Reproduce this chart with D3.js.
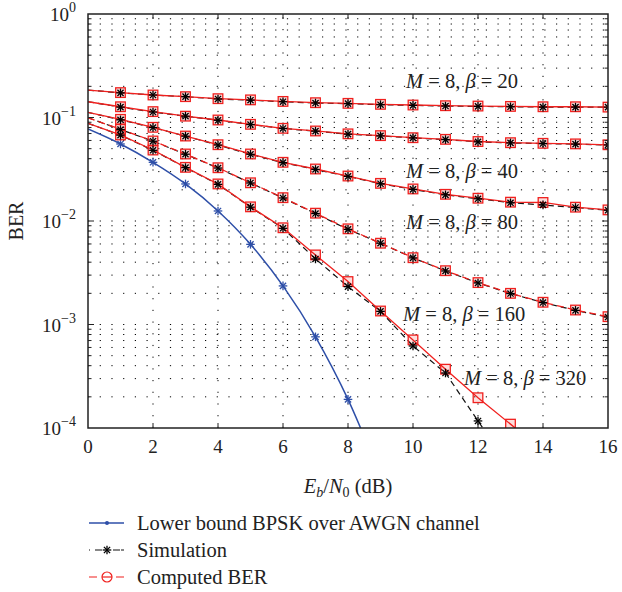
<!DOCTYPE html>
<html>
<head>
<meta charset="utf-8">
<script src="https://cdn.jsdelivr.net/npm/d3@7"></script>
<style>
  body { margin: 0; background: #fff; }
  svg text { font-family: "Liberation Serif", "DejaVu Serif", serif; fill: #222; }
</style>
</head>
<body>
<div id="chart"></div>
<script>
// Eb/N0 (dB) sample points
const ebn0 = [0, 1, 2, 3, 4, 5, 6, 7, 8, 9, 10, 11, 12, 13, 14, 15, 16];

// computed BER for M = 8 and each beta
const comp20 = [0.184, 0.174, 0.165, 0.159, 0.152, 0.148, 0.143, 0.139, 0.137, 0.134, 0.132, 0.130, 0.129, 0.128, 0.127, 0.127, 0.126];
const comp40 = [0.142, 0.127, 0.114, 0.103, 0.0946, 0.0859, 0.0786, 0.0741, 0.0695, 0.0668, 0.0638, 0.0615, 0.0586, 0.0571, 0.0563, 0.0556, 0.0545];
const comp80 = [0.112, 0.096, 0.0804, 0.0662, 0.0546, 0.0444, 0.0369, 0.0318, 0.0272, 0.0231, 0.0204, 0.0181, 0.0166, 0.0152, 0.0151, 0.0136, 0.0128];
const comp160 = [0.0995, 0.0769, 0.0593, 0.0444, 0.0327, 0.0234, 0.0168, 0.0119, 0.0084, 0.0061, 0.00442, 0.00331, 0.00254, 0.0020, 0.00164, 0.00138, 0.00119];
const comp320 = [0.0879, 0.0678, 0.0485, 0.033, 0.0228, 0.0137, 0.0086, 0.0047, 0.0026, 0.00135, 0.00071, 0.00037, 0.000196, 0.000109, 0.00006];

// simulation results
const sim20 = [0.184, 0.173, 0.165, 0.159, 0.151, 0.147, 0.142, 0.138, 0.136, 0.133, 0.131, 0.129, 0.128, 0.127, 0.126, 0.126, 0.126];
const sim40 = [0.142, 0.126, 0.113, 0.103, 0.0940, 0.0855, 0.0784, 0.0738, 0.0690, 0.0664, 0.0635, 0.0612, 0.0582, 0.0568, 0.0560, 0.0553, 0.0543];
const sim80 = [0.112, 0.095, 0.0800, 0.0660, 0.0542, 0.0441, 0.0366, 0.0315, 0.0270, 0.0229, 0.0202, 0.0179, 0.0164, 0.0150, 0.0143, 0.0135, 0.0127];
const sim160 = [0.0995, 0.0765, 0.0590, 0.0442, 0.0325, 0.0233, 0.0167, 0.0118, 0.0083, 0.0061, 0.00440, 0.00329, 0.00252, 0.00199, 0.00163, 0.00137, 0.00118];
const sim320 = [0.0879, 0.0675, 0.0482, 0.0328, 0.0226, 0.0136, 0.0085, 0.0043, 0.00232, 0.00134, 0.00062, 0.00034, 0.000117, 0.00004];

// lower bound, BPSK over AWGN
const bpsk = [0.0774, 0.0555, 0.0369, 0.0228, 0.0125, 0.00595, 0.00236, 0.00076, 0.000189, 0.000034];

const xTicks = [0, 2, 4, 6, 8, 10, 12, 14, 16];
const yExps = [0, -1, -2, -3, -4];
const curveLabels = ["20", "40", "80", "160", "320"];
const legendNames = ["Lower bound BPSK over AWGN channel", "Simulation", "Computed BER"];

const W = 622, H = 592;
const mLeft = 88, mRight = 608, mTop = 14, mBottom = 428;
const red = "#f0201e", blue = "#2e4fa8";

const x = d3.scaleLinear().domain([0, 16]).range([mLeft, mRight]);
const y = d3.scaleLog().domain([1e-4, 1]).range([mBottom, mTop]);

const svg = d3.select("#chart").append("svg")
  .attr("width", W).attr("height", H);

svg.append("defs").append("clipPath").attr("id", "plot")
  .append("rect").attr("x", mLeft).attr("y", mTop)
  .attr("width", mRight - mLeft).attr("height", mBottom - mTop);

//grid (matlab style dotted)
const minor = [];
for (let e = -4; e < 0; e++) {
  for (let m = 1; m < 10; m++) minor.push(m * Math.pow(10, e));
}
const isDecade = d => Math.abs(Math.log10(d) - Math.round(Math.log10(d))) < 1e-6;

const grid = svg.append("g").attr("stroke", "#000").attr("stroke-width", 1)
  .attr("stroke-dasharray", "1.2,10.5");
grid.selectAll("line.h").data(minor.filter(d => d > 1e-4)).enter()
  .append("line").attr("class", "h")
  .attr("x1", mLeft).attr("x2", mRight)
  .attr("y1", d => y(d)).attr("y2", d => y(d));
grid.selectAll("line.v").data(xTicks.slice(1, -1)).enter()
  .append("line").attr("class", "v")
  .attr("x1", d => x(d)).attr("x2", d => x(d))
  .attr("y1", mBottom).attr("y2", mTop);

const plot = svg.append("g").attr("clip-path", "url(#plot)");

function pts(vals) {
  return vals.map((v, i) => [ebn0[i], v]);
}
const line = d3.line().x(d => x(d[0])).y(d => y(d[1]));
const smooth = d3.line().x(d => x(d[0])).y(d => y(d[1])).curve(d3.curveMonotoneX);

function star(g, data, color) {
  const s = 4.3, d2 = s * 0.72;
  const m = g.selectAll(null).data(data).enter().append("g")
    .attr("transform", d => "translate(" + x(d[0]) + "," + y(d[1]) + ")")
    .attr("stroke", color).attr("stroke-width", 1.3);
  m.append("line").attr("x1", -s).attr("x2", s);
  m.append("line").attr("y1", -s).attr("y2", s);
  m.append("line").attr("x1", -d2).attr("y1", -d2).attr("x2", d2).attr("y2", d2);
  m.append("line").attr("x1", -d2).attr("y1", d2).attr("x2", d2).attr("y2", -d2);
}

function square(g, data) {
  g.selectAll(null).data(data).enter().append("rect")
    .attr("x", d => x(d[0]) - 4.8).attr("y", d => y(d[1]) - 4.8)
    .attr("width", 9.6).attr("height", 9.6)
    .attr("fill", "rgba(240,32,30,0.15)").attr("stroke", red).attr("stroke-width", 1.3);
}

// blue lower bound
plot.append("path").datum(pts(bpsk))
  .attr("d", smooth).attr("fill", "none")
  .attr("stroke", blue).attr("stroke-width", 1.5);
star(plot, pts(bpsk).filter(d => d[0] >= 1 && d[0] <= 8), blue);

const sims = [sim20, sim40, sim80, sim160, sim320];
const comps = [comp20, comp40, comp80, comp160, comp320];
const compDash = [null, null, null, "7,4", null];

sims.forEach(s => {
  plot.append("path").datum(pts(s)).attr("d", line)
    .attr("fill", "none").attr("stroke", "#111").attr("stroke-width", 1.2)
    .attr("stroke-dasharray", "6,4");
});
comps.forEach((c, i) => {
  plot.append("path").datum(pts(c)).attr("d", line)
    .attr("fill", "none").attr("stroke", red).attr("stroke-width", 1.3)
    .attr("stroke-dasharray", compDash[i]);
});
comps.forEach(c => square(plot, pts(c).filter(d => d[0] >= 1)));
sims.forEach(s => star(plot, pts(s).filter(d => d[0] >= 1), "#000"));

// axes box + ticks
const axes = svg.append("g").attr("stroke", "#222").attr("stroke-width", 1);
axes.selectAll("line.xt").data(xTicks.slice(1, -1)).enter().append("line")
  .attr("x1", d => x(d)).attr("x2", d => x(d)).attr("y1", mBottom).attr("y2", mBottom - 5);
axes.selectAll("line.xt2").data(xTicks.slice(1, -1)).enter().append("line")
  .attr("x1", d => x(d)).attr("x2", d => x(d)).attr("y1", mTop).attr("y2", mTop + 5);
const yt = minor.filter(d => d > 1e-4);
axes.selectAll("line.yt").data(yt).enter().append("line")
  .attr("x1", mLeft).attr("x2", d => mLeft + (isDecade(d) ? 6 : 3.5))
  .attr("y1", d => y(d)).attr("y2", d => y(d));
axes.selectAll("line.yt2").data(yt).enter().append("line")
  .attr("x1", mRight).attr("x2", d => mRight - (isDecade(d) ? 6 : 3.5))
  .attr("y1", d => y(d)).attr("y2", d => y(d));
svg.append("rect").attr("x", mLeft).attr("y", mTop)
  .attr("width", mRight - mLeft).attr("height", mBottom - mTop)
  .attr("fill", "none").attr("stroke", "#222").attr("stroke-width", 1.5);

// tick labels
svg.selectAll("text.xl").data(xTicks).enter().append("text")
  .attr("x", d => x(d)).attr("y", mBottom + 25)
  .attr("text-anchor", "middle").attr("font-size", 19).text(d => d);

const yl = svg.selectAll("text.yl").data(yExps).enter().append("text")
  .attr("x", mLeft - 12).attr("y", d => y(Math.pow(10, d)) + 7)
  .attr("text-anchor", "end").attr("font-size", 19);
yl.append("tspan").text("10");
yl.append("tspan").attr("dy", -9).attr("font-size", 14)
  .text(d => d === 0 ? "0" : "\u2212" + (-d));

// axis titles
const xt = svg.append("text").attr("x", (mLeft + mRight) / 2).attr("y", 493)
  .attr("text-anchor", "middle").attr("font-size", 20.5);
xt.append("tspan").attr("font-style", "italic").text("E");
xt.append("tspan").attr("font-style", "italic").attr("font-size", 14).attr("dy", 4).text("b");
xt.append("tspan").attr("dy", -4).text("/");
xt.append("tspan").attr("font-style", "italic").text("N");
xt.append("tspan").attr("font-size", 14).attr("dy", 4).text("0");
xt.append("tspan").attr("dy", -4).text(" (dB)");

svg.append("text").attr("transform", "translate(23," + y(0.01) + ") rotate(-90)")
  .attr("text-anchor", "middle").attr("font-size", 20).text("BER");

// curve annotations
const labelPos = [[406, 88], [406, 178], [406, 229], [403, 321], [464, 385]];
curveLabels.forEach((b, i) => {
  const t = svg.append("text").attr("x", labelPos[i][0]).attr("y", labelPos[i][1])
    .attr("font-size", 20.5);
  t.append("tspan").attr("font-style", "italic").text("M");
  t.append("tspan").text(" = 8, ");
  t.append("tspan").attr("font-style", "italic").text("\u03b2");
  t.append("tspan").text(" = " + b);
});

// legend
const legY = [523, 550, 577];
const lg = svg.append("g");
legendNames.forEach((n, i) => {
  lg.append("text").attr("x", 137).attr("y", legY[i] + 7).attr("font-size", 20.5).text(n);
});
lg.append("line").attr("x1", 89).attr("x2", 124).attr("y1", legY[0]).attr("y2", legY[0])
  .attr("stroke", blue).attr("stroke-width", 1.3);
lg.append("circle").attr("cx", 107).attr("cy", legY[0]).attr("r", 2).attr("fill", blue);
lg.append("line").attr("x1", 89).attr("x2", 124).attr("y1", legY[1]).attr("y2", legY[1])
  .attr("stroke", "#111").attr("stroke-width", 1.2).attr("stroke-dasharray", "1,5,7,11,7");
star(lg, [[x.invert(107), y.invert(legY[1])]], "#000");
lg.append("line").attr("x1", 89).attr("x2", 124).attr("y1", legY[2]).attr("y2", legY[2])
  .attr("stroke", red).attr("stroke-width", 1.2).attr("stroke-dasharray", "8,19,8");
lg.append("circle").attr("cx", 107).attr("cy", legY[2]).attr("r", 5)
  .attr("fill", "#fff").attr("stroke", red).attr("stroke-width", 1.2);
lg.append("line").attr("x1", 102).attr("x2", 112).attr("y1", legY[2]).attr("y2", legY[2])
  .attr("stroke", red).attr("stroke-width", 1.2);
</script>
</body>
</html>
